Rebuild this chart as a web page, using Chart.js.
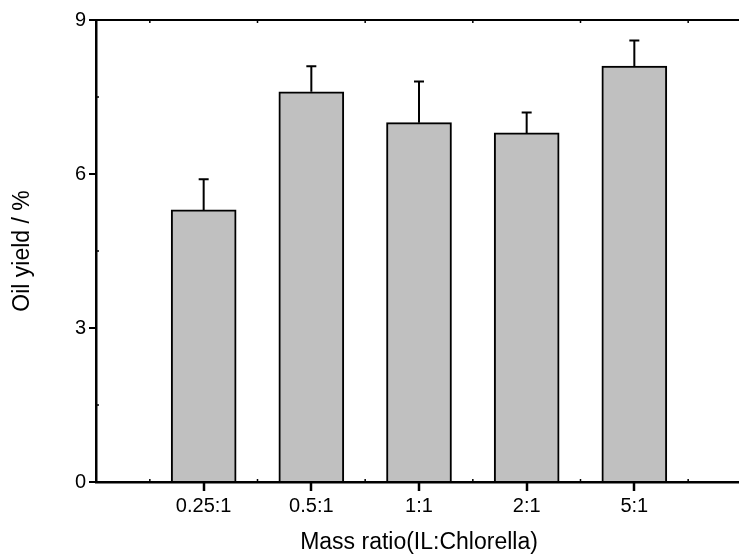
<!DOCTYPE html>
<html>
<head>
<meta charset="utf-8">
<script src="https://cdn.jsdelivr.net/npm/chart.js@4/dist/chart.umd.min.js"></script>
<style>
  html, body { margin: 0; padding: 0; background: #fff; overflow: hidden; }
  #wrap { width: 745px; height: 556px; }
</style>
</head>
<body>
<div id="wrap"><canvas id="chart" width="745" height="556"></canvas></div>
<script>
// oil yield for each IL:Chlorella mass ratio
const categories = ['0.25:1', '0.5:1', '1:1', '2:1', '5:1'];
const yieldValues = [5.3, 7.6, 7.0, 6.8, 8.1];
const yieldErrors = [0.6, 0.5, 0.8, 0.4, 0.5];
const yTicks = [0, 3, 6, 9];

// blank slots at both ends so the bars sit between the axis edges
const labels = ['', ...categories, ''];
const barData = [null, ...yieldValues, null];
const errData = [null, ...yieldErrors, null];

const FONT = '"Liberation Sans", Arial, sans-serif';

// error bars, axis tick marks and the top frame line
const extrasPlugin = {
    id: 'extras',
    afterDraw(chart) {
        const ctx = chart.ctx;
        const x = chart.scales.x;
        const y = chart.scales.y;
        const area = chart.chartArea;
        ctx.save();
        ctx.strokeStyle = '#000';
        ctx.lineWidth = 2;

        // error bars (upper half only)
        const meta = chart.getDatasetMeta(0);
        meta.data.forEach((bar, i) => {
            if (barData[i] == null) return;
            const top = y.getPixelForValue(barData[i] + errData[i]);
            ctx.beginPath();
            ctx.moveTo(bar.x, bar.y);
            ctx.lineTo(bar.x, top);
            ctx.moveTo(bar.x - 5, top);
            ctx.lineTo(bar.x + 5, top);
            ctx.stroke();
        });

        // top frame line
        ctx.beginPath();
        ctx.moveTo(area.left, area.top);
        ctx.lineTo(area.right, area.top);
        ctx.stroke();

        // major ticks under each category, at the bar centres
        ctx.lineWidth = 2.5;
        meta.data.forEach((bar, i) => {
            if (barData[i] == null) return;
            const px = Math.round(bar.x);
            ctx.beginPath();
            ctx.moveTo(px, area.bottom);
            ctx.lineTo(px, area.bottom + 9);
            ctx.stroke();
        });

        // minor ticks on the left axis
        ctx.lineWidth = 1.5;
        for (let v = 1.5; v < 9; v += 3) {
            const py = y.getPixelForValue(v);
            ctx.beginPath();
            ctx.moveTo(area.left, py);
            ctx.lineTo(area.left + 3, py);
            ctx.stroke();
        }
        // minor ticks on bottom and top between categories
        for (let i = 0; i < labels.length - 1; i++) {
            const px = (x.getPixelForValue(i) + x.getPixelForValue(i + 1)) / 2;
            ctx.beginPath();
            ctx.moveTo(px, area.bottom);
            ctx.lineTo(px, area.bottom - 3);
            ctx.moveTo(px, area.top);
            ctx.lineTo(px, area.top + 3);
            ctx.stroke();
        }
        ctx.restore();
    }
};

new Chart(document.getElementById('chart'), {
    type: 'bar',
    data: {
        labels: labels,
        datasets: [{
            data: barData,
            backgroundColor: '#c0c0c0',
            borderColor: '#000',
            borderWidth: 2,
            barThickness: 65
        }]
    },
    options: {
        responsive: false,
        animation: false,
        events: [],
        layout: { padding: { top: 20, left: 0, right: 0, bottom: 0 } },
        plugins: {
            legend: { display: false },
            tooltip: { enabled: false }
        },
        scales: {
            x: {
                offset: false,
                grid: {
                    offset: false,
                    drawOnChartArea: false,
                    drawTicks: true,
                    tickLength: 9,
                    color: 'rgba(0,0,0,0)'
                },
                border: { display: true, color: '#000', width: 2.5 },
                ticks: {
                    color: '#000',
                    font: { family: FONT, size: 20 },
                    padding: 3,
                    maxRotation: 0,
                    autoSkip: false
                },
                title: {
                    display: true,
                    text: 'Mass ratio(IL:Chlorella)',
                    color: '#000',
                    font: { family: FONT, size: 23 },
                    padding: { top: 6, bottom: 0 }
                },
                afterFit(scale) { scale.height = 74; }
            },
            y: {
                min: 0,
                max: 9,
                afterBuildTicks(scale) { scale.ticks = yTicks.map(v => ({ value: v })); },
                grid: {
                    drawOnChartArea: false,
                    drawTicks: true,
                    tickLength: 7,
                    color: '#000',
                    lineWidth: 2
                },
                border: { display: true, color: '#000', width: 2.5 },
                ticks: {
                    color: '#000',
                    font: { family: FONT, size: 20 },
                    padding: 3
                },
                title: {
                    display: true,
                    text: 'Oil yield / %',
                    color: '#000',
                    font: { family: FONT, size: 23 },
                    padding: { top: 9, bottom: 20 }
                },
                afterFit(scale) { scale.width = 96; }
            }
        }
    },
    plugins: [extrasPlugin]
});
</script>
</body>
</html>
